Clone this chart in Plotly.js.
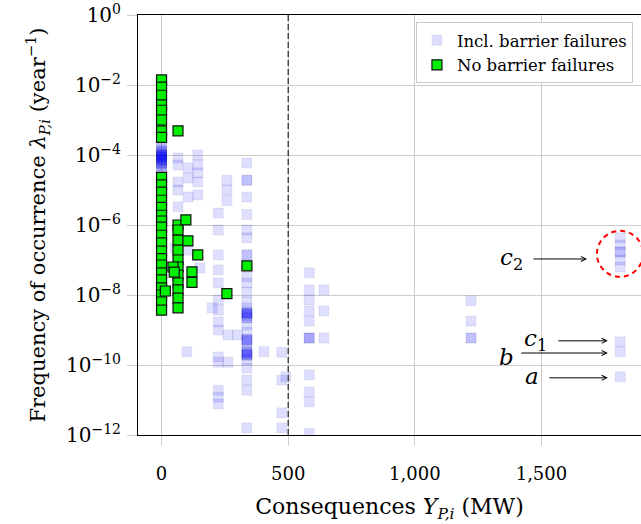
<!DOCTYPE html>
<html>
<head>
<meta charset="utf-8">
<script src="https://cdn.plot.ly/plotly-3.0.1.min.js"></script>
<style>html,body{margin:0;padding:0;background:#fff}#chart{width:641px;height:524px}</style>
</head>
<body>
<div id="chart"></div>
<script>
// Scenarios including barrier failures (x: MW, y: 1/year)
const inclX = [
  0,0,0,0,0,0,0,0,0,0, 0,0,0,0,0,0,0,0, 0,0,0,0,0,0,
  65,65,65,65,65, 55,104,151,
  105,105,105,
  143,143,143,143,143,
  258,258,258,
  224,224,224,224,224,224,224,224,224,224,224,224,224,224,
  200,262,262,300,
  337,337,337,337,337,337,337,337,337,337,337,337,337,337,337,337,337,337,337,337,337,337,337,337,337,337,337,337,337,337,337,337,337,
  337,337,337,337,337,337,337,337,
  100,404,
  475,475,475,475,491,
  583,583,583,583,583,583,583,583,583,583,583,583,
  641,641,641,
  1222,1222,1222,1222,
  1811,1811,1811,1811,1811,1811,1811,1811,1811
];
const inclY = [
  2.2e-4,1.6e-4,1.2e-4,1.0e-4,8.7e-5,7.2e-5,5.9e-5,4.9e-5,4.0e-5,3.2e-5, 1.4e-4,1.1e-4,1.0e-4,9.0e-5,8.0e-5,7.0e-5,6.2e-5,5.5e-5, 1.3e-4,1.05e-4,9.5e-5,8.5e-5,7.5e-5,6.6e-5,
  8.2e-5,5.2e-5,1.7e-5,1.0e-5,3.3e-6, 2.2e-7,1.9e-7,5.9e-8,
  4.3e-5,2.2e-5,6.3e-6,
  1.0e-4,5.2e-5,3.1e-5,1.7e-5,7.2e-6,
  1.9e-5,1.0e-5,5.0e-6,
  2.2e-6,7.2e-7,1.4e-7,5.2e-8,2.2e-8,7.2e-9,3.7e-9,1.7e-9,1.0e-9,1.7e-10,1.2e-10,1.9e-11,1.2e-11,7.7e-12,
  4.3e-9,7.2e-10,1.2e-10,7.2e-10,
  5.9e-5,1.9e-5,1.9e-5,6.3e-6,2.0e-6,7.2e-7,4.3e-7,1.4e-7,1.4e-7,3.3e-8,2.2e-8,1.2e-8,6.3e-9,4.3e-9,3.1e-9,3.1e-9,3.1e-9,2.2e-9,2.2e-9,1.4e-9,8.7e-10,5.2e-10,5.2e-10,4.3e-10,2.4e-10,2.4e-10,1.9e-10,1.9e-10,1.4e-10,8.2e-11,3.7e-11,1.9e-11,1.6e-12,
  3.0e-9,2.6e-9,2.8e-9,2.2e-10,2.1e-10,2.0e-10,5.5e-10,4.8e-10,
  2.4e-10,2.4e-10,
  2.3e-10,3.7e-11,4.3e-12,1.6e-12,4.6e-11,
  4.3e-8,1.4e-8,7.2e-9,3.5e-9,1.8e-9,5.9e-10,5.9e-10,5.9e-10,5.2e-11,1.7e-11,8.8e-12,1.1e-12,
  1.4e-8,3.5e-9,5.9e-10,
  6.8e-9,1.8e-9,5.9e-10,5.9e-10,
  4.3e-7,2.7e-7,1.7e-7,1.7e-7,1.0e-7,6.3e-8,4.6e-10,2.4e-10,4.6e-11
];
// Scenarios without barrier failures
const noX = [
  0,0,0,0,0,0,0,0, 0,0,0,0,0,0,0,0,0,0,0,0,0,0,0,0,0,0,0,
  15,
  65, 65,65,65,65,65,65,65,65,65,65,65,
  96,104,143,120,120,45,50,337,258
];
const noY = [
  1.4e-2,8.7e-3,5.1e-3,2.7e-3,1.9e-3,1.0e-3,4.9e-4,3.2e-4,
  2.3e-5,1.4e-5,8.7e-6,5.1e-6,3.2e-6,1.9e-6,1.3e-6,8.7e-7,5.1e-7,3.1e-7,1.8e-7,1.1e-7,7.2e-8,4.3e-8,2.7e-8,1.6e-8,1.0e-8,6.3e-9,3.7e-9,
  1.3e-8,
  4.9e-4, 1.0e-6,7.2e-7,3.7e-7,1.9e-7,1.0e-7,6.3e-8,3.7e-8,2.2e-8,1.4e-8,8.1e-9,4.3e-9,
  1.4e-6,3.5e-7,1.4e-7,4.6e-8,2.3e-8,6.3e-8,4.5e-8,6.8e-8,1.1e-8
];
const xTickVals = [0, 500, 1000, 1500];
const xTickText = ['0', '500', '1,000', '1,500'];
const yTickVals = [1, 1e-2, 1e-4, 1e-6, 1e-8, 1e-10, 1e-12];
const yTickText = ['10<sup>0</sup>', '10<sup>−2</sup>', '10<sup>−4</sup>', '10<sup>−6</sup>', '10<sup>−8</sup>', '10<sup>−10</sup>', '10<sup>−12</sup>'];
const threshold = 500;

const FONT = '"DejaVu Serif", serif';

const traces = [
  {
    x: inclX, y: inclY, type: 'scatter', mode: 'markers', name: 'Incl. barrier failures',
    marker: {symbol: 'square', size: 10, color: 'rgba(0,0,255,0.13)', line: {color: 'rgba(0,0,120,0.10)', width: 0.7}},
    hoverinfo: 'x+y'
  },
  {
    x: noX, y: noY, type: 'scatter', mode: 'markers', name: 'No barrier failures',
    marker: {symbol: 'square', size: 10, color: '#00ee00', line: {color: '#111', width: 1.2}},
    hoverinfo: 'x+y'
  }
];

function arrow(xh, yh, ax) {
  return {x: xh, y: Math.log10(yh), xref: 'x', yref: 'y', text: '', showarrow: true,
    arrowhead: 5, arrowsize: 1, arrowwidth: 1, arrowcolor: '#000', ax: ax, ay: 0, standoff: 0, startstandoff: 0};
}
function label(xt, yt, txt) {
  return {x: xt, y: Math.log10(yt), xref: 'x', yref: 'y', text: txt, showarrow: false,
    font: {family: FONT, size: 23, color: '#000'}, xanchor: 'center', yanchor: 'middle'};
}

const layout = {
  width: 641, height: 524,
  margin: {l: 138, r: 0, t: 15, b: 89},
  paper_bgcolor: '#fff', plot_bgcolor: '#fff',
  font: {family: FONT, size: 18, color: '#000'},
  showlegend: true,
  legend: {x: 0.984, y: 0.983, xanchor: 'right', yanchor: 'top', bgcolor: '#fff',
    bordercolor: '#c8c8c8', borderwidth: 1, font: {family: FONT, size: 16.5}, tracegroupgap: 0},
  xaxis: {
    range: [-93, 1893], tickvals: xTickVals, ticktext: xTickText,
    showgrid: true, gridcolor: '#cccccc', gridwidth: 1, zeroline: false,
    showline: true, linecolor: '#000', linewidth: 1, mirror: true,
    ticks: 'outside', ticklen: 10, tickcolor: '#cccccc', ticklabelstandoff: 12,
    tickfont: {family: FONT, size: 18},
    title: {text: 'Consequences <i>Y</i><sub><i>P,i</i></sub> (MW)', font: {family: FONT, size: 22}, standoff: 16}
  },
  yaxis: {
    type: 'log', range: [-12, 0], tickvals: yTickVals, ticktext: yTickText,
    showgrid: true, gridcolor: '#cccccc', gridwidth: 1, zeroline: false,
    showline: true, linecolor: '#000', linewidth: 1, mirror: true,
    ticks: 'outside', ticklen: 10, tickcolor: '#cccccc', ticklabelstandoff: 2,
    tickfont: {family: FONT, size: 20},
    title: {text: 'Frequency of occurrence <i>λ</i><sub><i>P,i</i></sub> (year<sup>−1</sup>)', font: {family: FONT, size: 21}, standoff: 14}
  },
  shapes: [
    {type: 'line', xref: 'x', yref: 'paper', x0: threshold, x1: threshold, y0: 0, y1: 1,
      line: {color: '#222', width: 1.2, dash: '6px,3px'}},
    {type: 'circle', xref: 'x', yref: 'y', x0: 1719, x1: 1901, y0: 6.8e-7, y1: 3.3e-8,
      line: {color: '#ff0000', width: 2, dash: '5px,4px'}}
  ],
  annotations: [
    arrow(1680, 1.07e-7, -55),
    arrow(1762, 4.9e-10, -51),
    arrow(1762, 2.2e-10, -88),
    arrow(1762, 4.3e-11, -60),
    label(1380, 1.07e-7, '<i>c</i><sub>2</sub>'),
    label(1478, 5.1e-10, '<i>c</i><sub>1</sub>'),
    label(1360, 1.7e-10, '<i>b</i>'),
    label(1462, 4.9e-11, '<i>a</i>')
  ]
};

Plotly.newPlot('chart', traces, layout, {displayModeBar: false, staticPlot: true});
</script>
</body>
</html>
